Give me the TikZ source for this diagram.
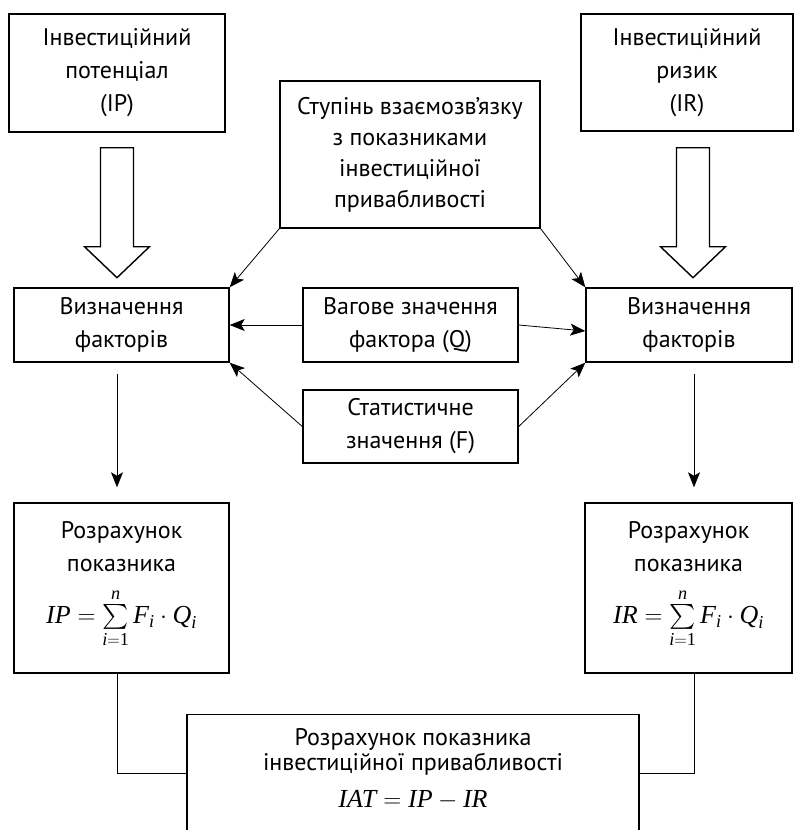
\documentclass[tikz,border=0pt]{standalone}
\usepackage{amsmath}
\usepackage[no-math]{fontspec}
\setmainfont{PT Sans}
\newfontfamily\tms{Liberation Serif}
\usetikzlibrary{arrows.meta,calc}
\newcommand\fs{\fontsize{24}{33}\selectfont}
\newcommand\fsb{\fontsize{24}{27}\selectfont}
\newcommand\mi[1]{\text{\tms\itshape #1}}
\newcommand\mr[1]{\text{\tms #1}}
\newcommand\sumf{\sum\limits_{\mi{i}=\mr{1}}^{\mi{n}}\mi{F}_{\mi{i}}\cdot \mi{Q}_{\mi{i}}}
\newcommand\mf[1]{{\fontsize{26}{30}\selectfont$#1$}}
\begin{document}
\begin{tikzpicture}[x=1pt,y=-1pt,
  box/.style={draw, line width=1.4pt, align=center, inner sep=0pt, font=\fs},
  txt/.style={align=center, inner sep=0pt, font=\fsb},
  arr/.style={-{Stealth[length=15pt,width=12pt,inset=3.5pt]}, line width=0.8pt},
  ln/.style={line width=0.8pt},
  hollow/.style={draw, line width=1.4pt, fill=white, line join=miter}]
\path[use as bounding box] (0,0) rectangle (794,830);
\clip (0,0) rectangle (794,830);

\node[box, minimum width=216pt, minimum height=118pt] (ip) at (117,73) {Інвестиційний\\потенціал\\(IP)};
\node[box, minimum width=212pt, minimum height=117pt] (ir) at (687,72.5) {Інвестиційний\\ризик\\(IR)};
\node[box, minimum width=260pt, minimum height=147pt, font=\fontsize{24}{31}\selectfont] (st) at (410,154.5) {Ступінь взаємозв’язку\\з показниками\\інвестиційної\\привабливості};
\node[box, minimum width=215pt, minimum height=74pt] (vl) at (121.5,325) {Визначення\\факторів};
\node[box, minimum width=206pt, minimum height=74pt] (vr) at (689,325) {Визначення\\факторів};
\node[box, minimum width=215pt, minimum height=74pt] (q) at (410.5,325) {Вагове значення\\фактора (Q)};
\node[box, minimum width=215pt, minimum height=73pt] (f) at (410.5,426.5) {Статистичне\\значення (F)};
\node[box, minimum width=215pt, minimum height=170pt] (rl) at (121.5,588) {Розрахунок\\показника\\[16pt]\mf{\mi{IP}=\sumf}\rule[-31pt]{0pt}{1pt}};
\node[box, minimum width=207pt, minimum height=170pt] (rr) at (688.5,588) {Розрахунок\\показника\\[16pt]\mf{\mi{IR}=\sumf}\rule[-31pt]{0pt}{1pt}};
\node[box, anchor=north, minimum width=452pt, minimum height=140pt] (b) at (413,714) {};
\node[txt, anchor=north] (bt) at (413,728) {Розрахунок показника\\[-2pt]інвестиційної привабливості\\[10pt]\mf{\mi{IAT}=\mi{IP}-\mi{IR}}};

% hollow arrows
\coordinate (h1) at ($(ip.south)+(0,15)$);
\coordinate (h2) at ($(ir.south)+(6,16)$);
\draw[hollow] (h1) ++(-16.5,0) -- ++(0,99) -- ++(-16,0) -- ++(32.5,31) -- ++(32.5,-31) -- ++(-16,0) -- ++(0,-99) -- cycle;
\draw[hollow] (h2) ++(-16.5,0) -- ++(0,99) -- ++(-16,0) -- ++(32.5,31) -- ++(32.5,-31) -- ++(-16,0) -- ++(0,-99) -- cycle;

% diagonal / horizontal arrows
\draw[arr] (st.south west) -- (vl.north east);
\draw[arr] (st.south east) -- (vr.north west);
\draw[arr] (q.west) -- (vl.east);
\draw[arr] (q.east) -- ($(vr.west)+(0,6)$);
\draw[arr] (f.west) -- (vl.south east);
\draw[arr] (f.east) -- (vr.south west);

% vertical arrows
\draw[arr] ($(vl.south)+(-4.5,11)$) -- ($(rl.north)+(-4.5,-15)$);
\draw[arr] ($(vr.south)+(5,11)$) -- ($(rr.north)+(5.5,-15)$);

% connectors to bottom box
\coordinate (bw) at ($(b.north west)+(0,59)$);
\coordinate (be) at ($(b.north east)+(0,59)$);
\draw[ln] ($(rl.south)+(-4.5,0)$) |- (bw);
\draw[ln] ($(rr.south)+(5.5,0)$) |- (be);
\end{tikzpicture}
\end{document}
